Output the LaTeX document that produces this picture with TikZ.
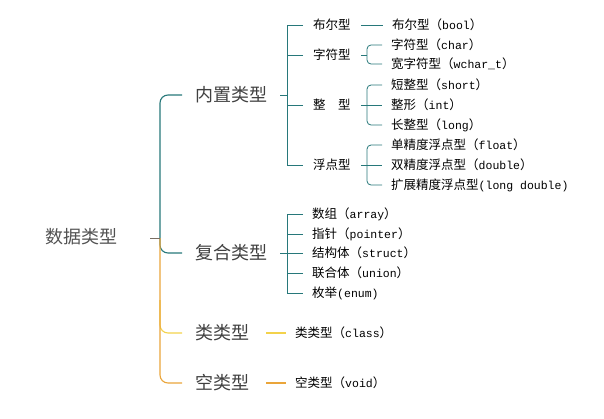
\documentclass[tikz,border=0pt]{standalone}
\usepackage{fontspec}
\setmainfont{Noto Sans CJK SC}
\newfontfamily\mono{Liberation Mono}
\definecolor{tealc}{HTML}{27787A}
\definecolor{yellowc}{HTML}{F3D24B}
\definecolor{orangec}{HTML}{EAA53A}
\definecolor{rootc}{HTML}{7A6E62}
\newcommand{\en}[1]{{\mono\fontsize{11.5}{13}\selectfont #1}}

\begin{document}
\begin{tikzpicture}[x=1pt, y=-1pt,
	rootnode/.style={anchor=west, inner sep=0pt, text=black!68, font=\fontsize{18}{20}\selectfont},
	kind/.style={anchor=west, inner xsep=13pt, inner ysep=0pt, text=black!75, font=\fontsize{18}{20}\selectfont},
	sub/.style={anchor=west, inner xsep=10pt, inner ysep=0pt, font=\fontsize{12.5}{14}\selectfont},
	leaf/.style={anchor=west, inner xsep=9pt, inner ysep=0pt, font=\fontsize{12.5}{14}\selectfont},
	tealline/.style={draw=tealc, line width=1.1pt},
	subline/.style={draw=tealc, line width=0.8pt},
	yellowline/.style={draw=yellowc, line width=1.1pt},
	orangeline/.style={draw=orangec, line width=1.1pt}]
	\useasboundingbox (0,0) rectangle (604,418);

	% root and first level
	\node[rootnode] (root) at (45,237) {数据类型};
	\coordinate (rootend) at (150,238);
	\coordinate (trunk) at (160,238);
	\node[kind] (builtin) at (182,95) {内置类型};
	\node[kind] (compound) at (182,253) {复合类型};
	\node[kind] (classtype) at (182,333) {类类型};
	\node[kind] (voidtype) at (182,383) {空类型};

	% built-in types
	\node[sub] (bool) at (303,25) {布尔型};
	\node[sub] (char) at (303,55) {字符型};
	\node[sub] (integer) at (303,105) {整　型};
	\node[sub] (floating) at (303,165) {浮点型};
	\node[leaf] (boolleaf) at (383,25) {布尔型（\en{bool}）};
	\node[leaf] (charleaf) at (382,45) {字符型（\en{char}）};
	\node[leaf] (wcharleaf) at (382,64) {宽字符型（\en{wchar\_t}）};
	\node[leaf] (shortleaf) at (382,85) {短整型（\en{short}）};
	\node[leaf] (intleaf) at (382,105) {整形（\en{int}）};
	\node[leaf] (longleaf) at (382,125) {长整型（\en{long}）};
	\node[leaf] (floatleaf) at (382,145) {单精度浮点型（\en{float}）};
	\node[leaf] (doubleleaf) at (382,165) {双精度浮点型（\en{double}）};
	\node[leaf] (ldoubleleaf) at (382,185) {扩展精度浮点型\en{(long double)}};

	% compound types
	\node[leaf] (arrayleaf) at (303,214) {数组（\en{array}）};
	\node[leaf] (pointerleaf) at (303,234) {指针（\en{pointer}）};
	\node[leaf] (structleaf) at (303,253) {结构体（\en{struct}）};
	\node[leaf] (unionleaf) at (303,273) {联合体（\en{union}）};
	\node[leaf] (enumleaf) at (303,293) {枚举\en{(enum)}};

	% class and void
	\node[leaf] (classleaf) at (286,333) {类类型（\en{class}）};
	\node[leaf] (voidleaf) at (286,383) {空类型（\en{void}）};

	\draw[tealline, rounded corners=8pt] (builtin.west) -| (160,253) -- (compound.west);
	\draw[yellowline, rounded corners=8pt] (160,300) |- (classtype.west);
	\draw[orangeline, rounded corners=8pt] (trunk) |- (voidtype.west);
	\draw[draw=rootc, line width=1pt] (rootend) -- (trunk);

	\draw[subline]
	(builtin.east) -- (287,95)
	(bool.west) -| (287,165) -- (floating.west)
	(char.west) -- ++(-16,0)
	(integer.west) -- ++(-16,0)
	(bool.east) -- (boolleaf.west)
	(char.east) -- (367,55)
	(integer.east) -- (intleaf.west)
	(floating.east) -- (doubleleaf.west)
	(compound.east) -- (287,253)
	(arrayleaf.west) -| (287,293) -- (enumleaf.west)
	(pointerleaf.west) -- ++(-16,0)
	(structleaf.west) -- ++(-16,0)
	(unionleaf.west) -- ++(-16,0);
	\draw[subline, rounded corners=4pt]
	(charleaf.west) -| (367,64) -- (wcharleaf.west)
	(shortleaf.west) -| (367,125) -- (longleaf.west)
	(floatleaf.west) -| (367,185) -- (ldoubleleaf.west);

	\draw[yellowline, shorten <=4pt] (classtype.east) -- (classleaf.west);
	\draw[orangeline, shorten <=4pt] (voidtype.east) -- (voidleaf.west);
\end{tikzpicture}
\end{document}
